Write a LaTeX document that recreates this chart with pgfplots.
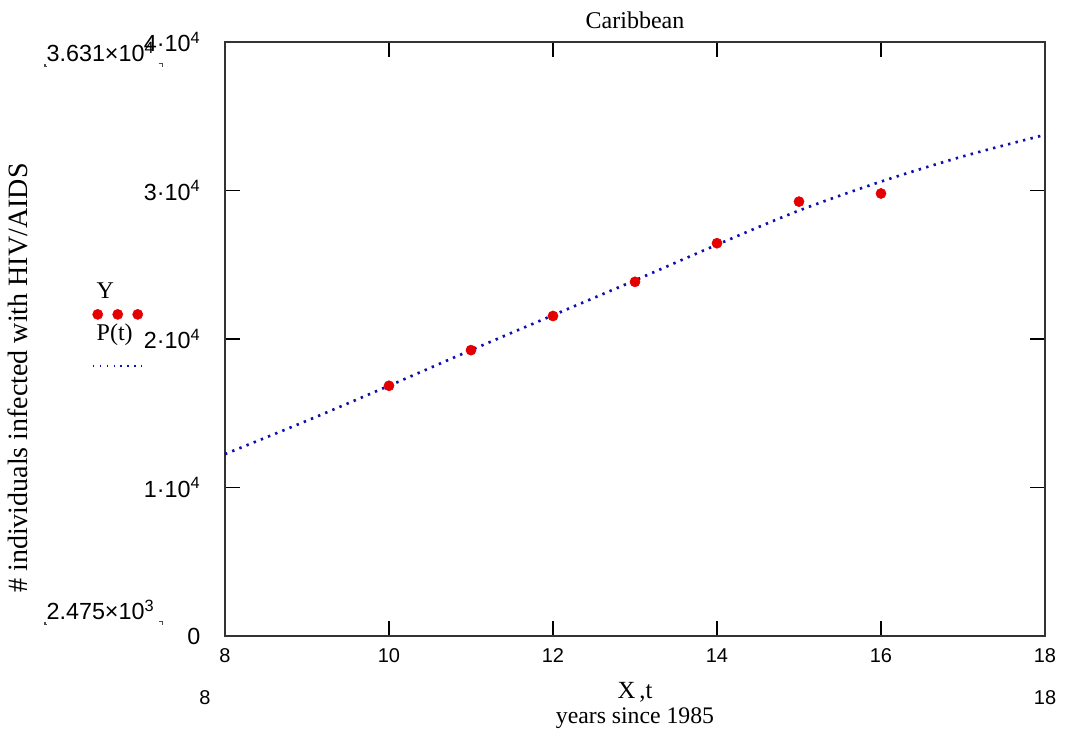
\documentclass[border=0pt]{standalone}
\usepackage{pgfplots}
\pgfplotsset{compat=1.18}
\usepackage{fontspec}
\setmainfont{Liberation Serif}
\setsansfont{Liberation Sans}
\definecolor{dotred}{RGB}{228,0,0}
\definecolor{lineblue}{RGB}{15,15,175}
\begin{document}
\begin{tikzpicture}
\begin{axis}[
  width=615pt, height=445.5pt, scale only axis,
  xmin=8, xmax=18, ymin=0, ymax=40000,
  xtick={8,10,12,14,16,18},
  xticklabels={8,10,12,14,16,18},
  ytick={0,10000,20000,30000,40000},
  yticklabels={0,{1·10\textsuperscript{4}},{2·10\textsuperscript{4}},{3·10\textsuperscript{4}},{4·10\textsuperscript{4}}},
  scaled y ticks=false,
  tick align=inside,
  major tick length=11pt,
  axis line style={line width=1.4pt, black!80},
  every tick/.style={line width=1.4pt, black},
  yticklabel style={font=\sffamily\fontsize{17.5}{21}\selectfont, xshift=-15pt},
  xticklabel style={font=\sffamily\fontsize{15}{18}\selectfont, yshift=-6pt},
  clip=false,
  legend cell align=left,
  legend style={at={(-0.16,0.60)}, anchor=north west, draw=none, fill=none,
    inner sep=0pt, row sep=14pt, font=\fontsize{18}{21}\selectfont,
    /tikz/every odd column/.style={column sep=0pt}},
]
\coordinate (sw) at (rel axis cs:0,0);
\addplot[only marks, mark=*, mark size=3.8pt, color=dotred,
  legend image code/.code={
    \fill[overlay, dotred] (2.75pt,-17.25pt) circle (3.8pt);
    \fill[overlay, dotred] (17.75pt,-17.25pt) circle (3.8pt);
    \fill[overlay, dotred] (32.75pt,-17.25pt) circle (3.8pt);
  }] coordinates {
  (10,16850) (11,19250) (12,21550) (13,23850) (14,26450) (15,29250) (16,29800)
};
\addlegendentry{Y}
\addplot[lineblue, line width=2pt, dash pattern=on 1.8pt off 4pt, smooth,
  legend image code/.code={
    \draw[overlay, lineblue, line width=1.2pt, dash pattern=on 1.2pt off 4pt] (-1pt,-24.5pt) -- (36pt,-24.5pt);
  }] coordinates {
  (8,12250) (9,14500) (10,16850) (11,19250) (12,21600) (13,23950) (14,26350)
  (15,28650) (16,30600) (17,32300) (18,33750)
};
\addlegendentry{P(t)}
\end{axis}
\node[font=\fontsize{18}{21}\selectfont] at ([shift={(307.5pt,462pt)}]sw) {Caribbean};
\node[font=\fontsize{21}{25}\selectfont, rotate=90] at ([shift={(-155pt,193.5pt)}]sw) {\# individuals infected with HIV/AIDS};
\node[font=\fontsize{18.5}{22}\selectfont] at ([shift={(307.5pt,-42pt)}]sw) {X\,,t};
\node[font=\fontsize{17.8}{21}\selectfont] at ([shift={(307.5pt,-61.5pt)}]sw) {years since 1985};
\node[font=\sffamily\fontsize{15}{18}\selectfont] at ([shift={(-15pt,-46.5pt)}]sw) {8};
\node[font=\sffamily\fontsize{15}{18}\selectfont] at ([shift={(615pt,-46.5pt)}]sw) {18};
\node[font=\sffamily\fontsize{17.5}{21}\selectfont, anchor=west, inner sep=0pt] (top) at ([shift={(-134pt,438pt)}]sw) {3.631×10\textsuperscript{4}};
\node[font=\sffamily\fontsize{17.5}{21}\selectfont, anchor=west, inner sep=0pt] (bot) at ([shift={(-134pt,19.5pt)}]sw) {2.475×10\textsuperscript{3}};
\foreach \n in {top,bot}{
  \draw[line width=0.8pt, black!70] ([shift={(-1pt,-1pt)}]\n.south west) -- ++(0,-2.5pt) -- ++(1.5pt,0);
  \draw[line width=0.8pt, black!70] ([shift={(3pt,-1pt)}]\n.south east) -- ++(3pt,0) -- ++(0,-2.5pt);
}
\pgfresetboundingbox
\path[use as bounding box] ([shift={(-168.75pt,-78pt)}]sw) rectangle ([shift={(630pt,477pt)}]sw);
\end{tikzpicture}
\end{document}
